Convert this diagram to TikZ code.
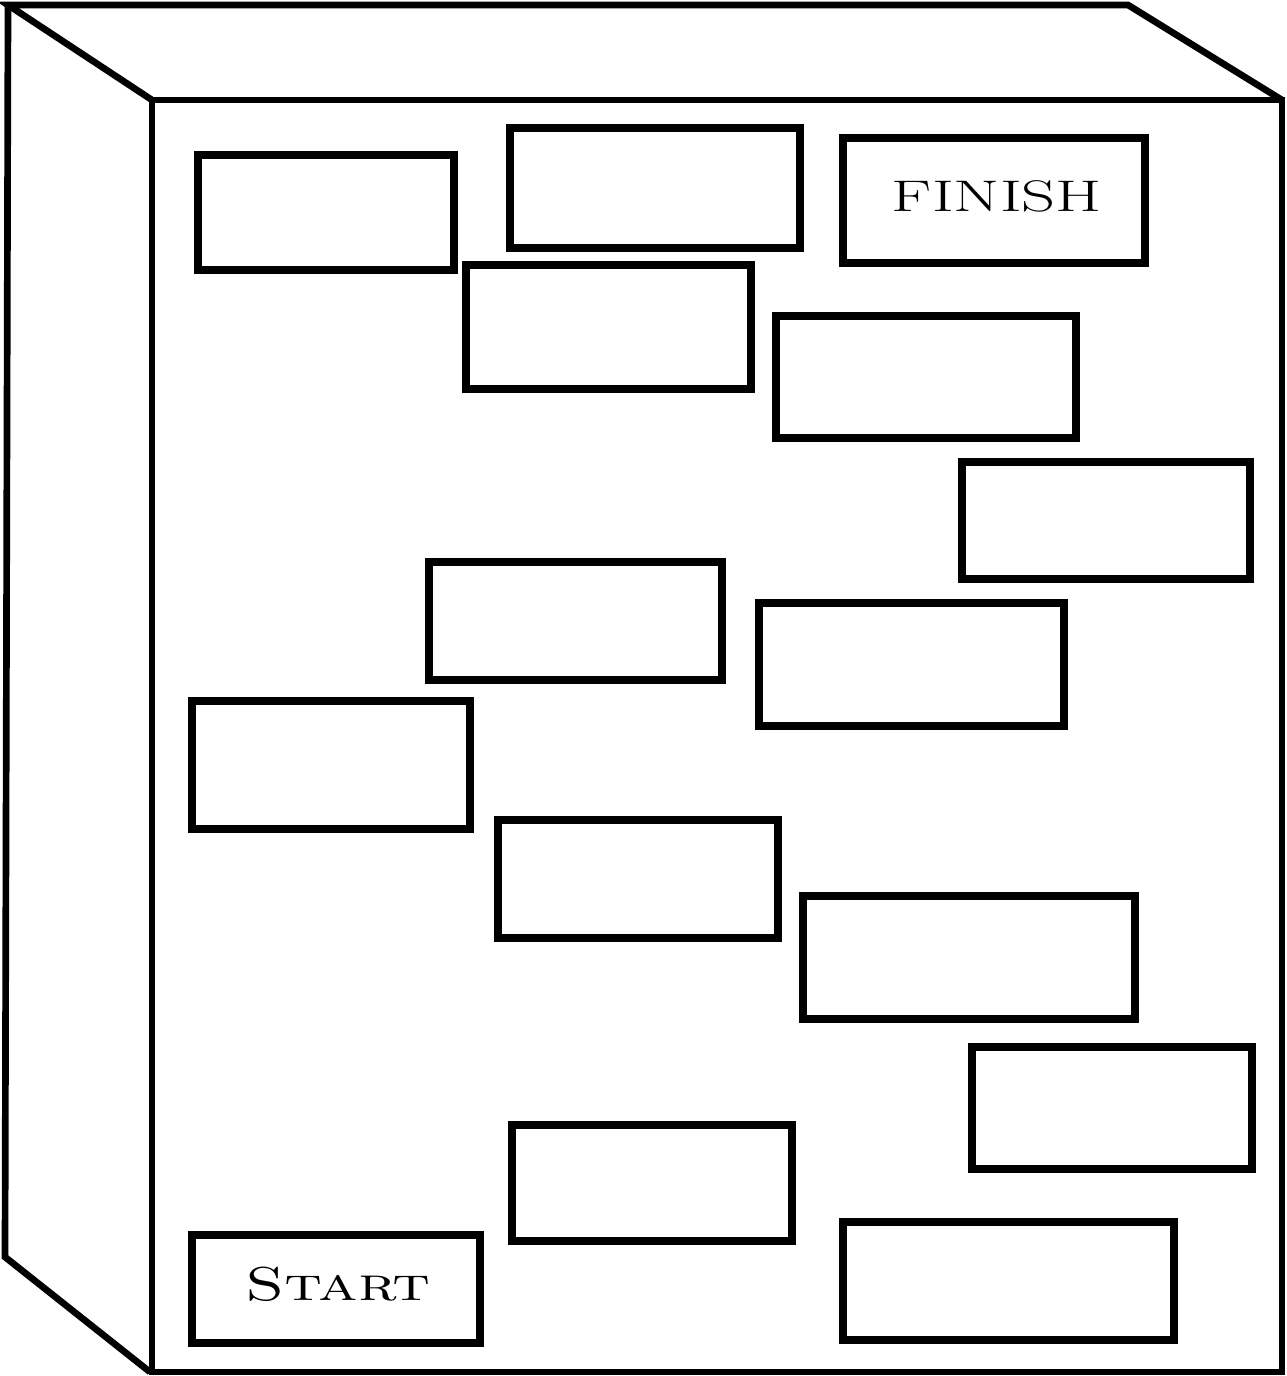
\documentclass[tikz,border=0pt]{standalone}
\usepackage{amsmath}
\usepackage{graphicx}

\begin{document}
\begin{tikzpicture}[x=0.02cm, y=-0.02cm, line join=miter]
    \useasboundingbox (0,0) rectangle (1286,1376);
    \tikzset{edge/.style={line width=3.8pt}, cell/.style={line width=4.2pt}}

    % Cabinet back and side
    \draw[edge] (152,100) -- (8,5) -- (1128,5) -- (1282,100);
    \draw[edge] (8,5) -- (5,1257) -- (150,1372);

    % Cabinet front
    \draw[edge] (152,100) rectangle (1282,1372);

    % Top row
    \draw[cell] (198,155) rectangle (454,270);
    \draw[cell] (510,128) rectangle (800,248);
    \draw[cell] (843,138) rectangle (1145,263);
    \node (finish) at (997,196) {\scalebox{1.58}[1.05]{\fontsize{24}{24}\selectfont FINISH}};

    % Middle rows
    \draw[cell] (466,265) rectangle (751,389);
    \draw[cell] (776,316) rectangle (1076,438);
    \draw[cell] (962,462) rectangle (1250,579);
    \draw[cell] (429,562) rectangle (722,680);
    \draw[cell] (759,603) rectangle (1064,726);
    \draw[cell] (192,701) rectangle (470,829);
    \draw[cell] (498,820) rectangle (778,938);
    \draw[cell] (803,896) rectangle (1135,1019);

    % Bottom rows
    \draw[cell] (972,1047) rectangle (1252,1169);
    \draw[cell] (512,1125) rectangle (792,1241);
    \draw[cell] (192,1235) rectangle (480,1343);
    \node (start) at (338,1284) {\scalebox{1.36}[1]{\fontsize{27}{27}\selectfont\textsc{Start}}};
    \draw[cell] (843,1222) rectangle (1174,1340);
\end{tikzpicture}
\end{document}
